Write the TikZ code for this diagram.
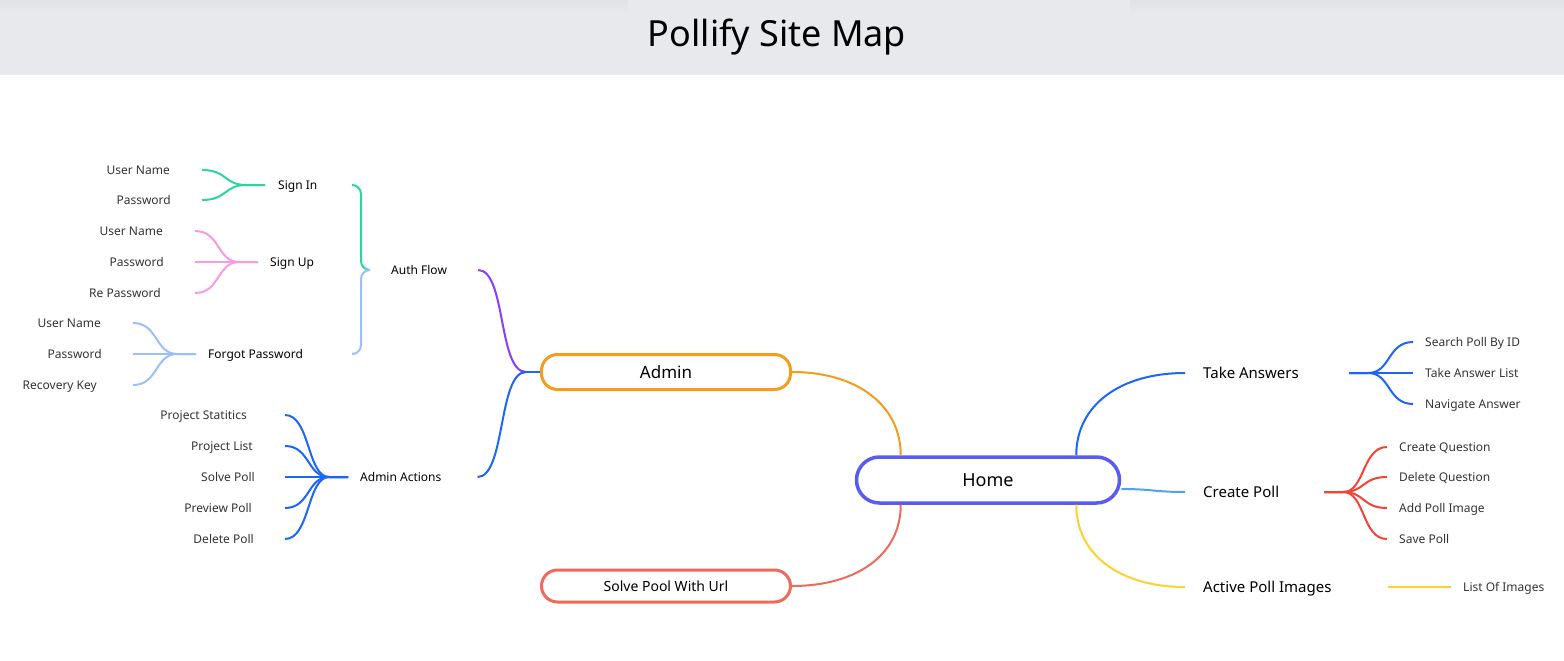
\documentclass[tikz,border=0pt]{standalone}
\usepackage{fontspec}
\setmainfont{Noto Sans}
\usetikzlibrary{calc, positioning}
\definecolor{headerGray}{RGB}{232,233,236}
\definecolor{headerShade}{RGB}{225,226,229}
\definecolor{homeBlue}{RGB}{88,92,240}
\definecolor{adminOrange}{RGB}{244,157,26}
\definecolor{solveRed}{RGB}{238,106,90}
\definecolor{pollRed}{RGB}{244,67,54}
\definecolor{takeBlue}{RGB}{27,102,245}
\definecolor{createBlue}{RGB}{74,163,245}
\definecolor{imageYellow}{RGB}{253,209,46}
\definecolor{authPurple}{RGB}{139,61,245}
\definecolor{signGreen}{RGB}{45,212,160}
\definecolor{signPink}{RGB}{247,155,230}
\definecolor{forgotBlue}{RGB}{157,190,252}
\definecolor{leafGray}{RGB}{51,51,51}
\tikzset{
    titleText/.style={font=\fontsize{36}{40}\selectfont, text height=25.7pt, text depth=0pt, inner sep=0pt},
    rootBox/.style={draw=homeBlue, fill=white, line width=3.5pt, rounded corners=23pt, minimum width=263pt, minimum height=46pt, font=\fontsize{18}{22}\selectfont, text height=12.9pt, text depth=0pt},
    mainBox/.style={fill=white, line width=3pt, rounded corners=16pt, minimum width=249pt, inner sep=0pt, text depth=0pt},
    topText/.style={anchor=west, inner sep=0pt, font=\fontsize{15}{18}\selectfont, text height=10.7pt, text depth=0pt},
    midText/.style={anchor=west, inner sep=0pt, font=\fontsize{12}{14}\selectfont, text height=8.6pt, text depth=0pt},
    leafText/.style={anchor=east, inner sep=0pt, text=leafGray, font=\fontsize{12}{14}\selectfont, text height=8.6pt, text depth=0pt},
    leafTextR/.style={leafText, anchor=west},
    mapEdge/.style={line width=2pt},
    topShade/.style={top color=headerShade, bottom color=headerGray},
}
% fan link: straight stub at the hub, then an S-curve to the leaf
\newcommand{\drawFan}[3][]{
    \draw[mapEdge, #1] let \p1=(#2), \p2=(#3) in
        (\p1) -- ({\x1+0.3*(\x2-\x1)}, \y1)
        .. controls ({\x1+0.65*(\x2-\x1)}, \y1) and ({\x1+0.6*(\x2-\x1)}, \y2) .. (\p2);
}
\newcommand{\drawBranch}[3][]{
    \draw[mapEdge, #1] (#2) .. controls +(28,0) and +(-28,0) .. (#3);
}

\begin{document}
\begin{tikzpicture}[x=1pt, y=-1pt]
    \useasboundingbox (0,0) rectangle (1564,661);
    \fill[headerGray] (0,0) rectangle (1564,75);
    \shade[topShade] (0,0) rectangle (628,14);
    \shade[topShade] (1130,0) rectangle (1564,14);
    \node[titleText] (title) at (777,34) {Pollify Site Map};

    \node[rootBox] (home) at (988,480) {Home};
    \node[mainBox, draw=adminOrange, minimum height=35pt, font=\fontsize{17}{20}\selectfont, text height=12.2pt] (admin) at (666,372) {Admin};
    \node[mainBox, draw=solveRed, minimum height=32pt, font=\fontsize{14}{17}\selectfont, text height=10pt] (solve) at (666,586) {Solve Pool With Url};

    \node[topText] (takeans) at (1203,373) {Take Answers};
    \node[topText] (createpoll) at (1203,492) {Create Poll};
    \node[topText] (activeimg) at (1203,587) {Active Poll Images};
    \node[leafTextR] (ta1) at (1425,342) {Search Poll By ID};
    \node[leafTextR] (ta2) at (1425,373) {Take Answer List};
    \node[leafTextR] (ta3) at (1425,404) {Navigate Answer};
    \node[leafTextR] (cp1) at (1399,447) {Create Question};
    \node[leafTextR] (cp2) at (1399,477) {Delete Question};
    \node[leafTextR] (cp3) at (1399,508) {Add Poll Image};
    \node[leafTextR] (cp4) at (1399,539) {Save Poll};
    \node[leafTextR] (imglist) at (1463,587) {List Of Images};

    \node[midText] (authflow) at (391,270) {Auth Flow};
    \node[midText] (signin) at (278,185) {Sign In};
    \node[midText] (signup) at (270,262) {Sign Up};
    \node[midText] (forgot) at (208,354) {Forgot Password};
    \node[midText] (adminact) at (360,477) {Admin Actions};
    \node[leafText] (si1) at (170,170) {User Name};
    \node[leafText] (si2) at (171,200) {Password};
    \node[leafText] (su1) at (163,231) {User Name};
    \node[leafText] (su2) at (164,262) {Password};
    \node[leafText] (su3) at (161,293) {Re Password};
    \node[leafText] (fp1) at (101,323) {User Name};
    \node[leafText] (fp2) at (102,354) {Password};
    \node[leafText] (fp3) at (97,385) {Recovery Key};
    \node[leafText] (aa1) at (247,415) {Project Statitics};
    \node[leafText] (aa2) at (253,446) {Project List};
    \node[leafText] (aa3) at (255,477) {Solve Poll};
    \node[leafText] (aa4) at (252,508) {Preview Poll};
    \node[leafText] (aa5) at (254,539) {Delete Poll};

    \draw[mapEdge, adminOrange] (admin.east) .. controls +(65,0) and +(0,-50) .. ([xshift=46pt]home.north west);
    \draw[mapEdge, solveRed] (solve.east) .. controls +(65,0) and +(0,50) .. ([xshift=46pt]home.south west);
    \draw[mapEdge, takeBlue] ([xshift=-45pt]home.north east) .. controls +(0,-50) and +(-65,0) .. ([xshift=-18pt]takeans.west);
    \draw[mapEdge, createBlue] ([yshift=-9pt]home.east) .. controls +(30,0) and +(-30,0) .. ([xshift=-18pt]createpoll.west);
    \draw[mapEdge, imageYellow] ([xshift=-45pt]home.south east) .. controls +(0,50) and +(-65,0) .. ([xshift=-18pt]activeimg.west);

    \drawFan[takeBlue]{[xshift=50pt]takeans.east}{[xshift=-12pt]ta1.west}
    \drawFan[takeBlue]{[xshift=50pt]takeans.east}{[xshift=-12pt]ta2.west}
    \drawFan[takeBlue]{[xshift=50pt]takeans.east}{[xshift=-12pt]ta3.west}
    \drawFan[pollRed]{[xshift=45pt]createpoll.east}{[xshift=-12pt]cp1.west}
    \drawFan[pollRed]{[xshift=45pt]createpoll.east}{[xshift=-12pt]cp2.west}
    \drawFan[pollRed]{[xshift=45pt]createpoll.east}{[xshift=-12pt]cp3.west}
    \drawFan[pollRed]{[xshift=45pt]createpoll.east}{[xshift=-12pt]cp4.west}
    \draw[mapEdge, imageYellow] ([xshift=-75pt]imglist.west) -- ([xshift=-12pt]imglist.west);

    \coordinate (adminJoin) at ([xshift=-14pt]admin.west);
    \drawBranch[authPurple]{[xshift=31pt]authflow.east}{adminJoin}
    \drawBranch[takeBlue]{[xshift=36pt]adminact.east}{adminJoin}
    \draw[mapEdge, takeBlue] (adminJoin) -- (admin.west);

    \coordinate (authTip) at ([xshift=-21pt]authflow.west);
    \draw[mapEdge, signGreen, rounded corners=9pt] (signin.east -| authTip) ++(-18,0) -- ++(9,0) |- (authTip);
    \draw[mapEdge, forgotBlue, rounded corners=9pt] (forgot.east -| authTip) ++(-18,0) -- ++(9,0) |- (authTip);

    \drawFan[signGreen]{[xshift=-13pt]signin.west}{[xshift=32pt]si1.east}
    \drawFan[signGreen]{[xshift=-13pt]signin.west}{[xshift=31pt]si2.east}
    \drawFan[signPink]{[xshift=-12pt]signup.west}{[xshift=32pt]su1.east}
    \drawFan[signPink]{[xshift=-12pt]signup.west}{[xshift=31pt]su2.east}
    \drawFan[signPink]{[xshift=-12pt]signup.west}{[xshift=34pt]su3.east}
    \drawFan[forgotBlue]{[xshift=-12pt]forgot.west}{[xshift=32pt]fp1.east}
    \drawFan[forgotBlue]{[xshift=-12pt]forgot.west}{[xshift=31pt]fp2.east}
    \drawFan[forgotBlue]{[xshift=-12pt]forgot.west}{[xshift=36pt]fp3.east}
    \drawFan[takeBlue]{[xshift=-12pt]adminact.west}{[xshift=38pt]aa1.east}
    \drawFan[takeBlue]{[xshift=-12pt]adminact.west}{[xshift=32pt]aa2.east}
    \drawFan[takeBlue]{[xshift=-12pt]adminact.west}{[xshift=30pt]aa3.east}
    \drawFan[takeBlue]{[xshift=-12pt]adminact.west}{[xshift=33pt]aa4.east}
    \drawFan[takeBlue]{[xshift=-12pt]adminact.west}{[xshift=31pt]aa5.east}
\end{tikzpicture}
\end{document}
